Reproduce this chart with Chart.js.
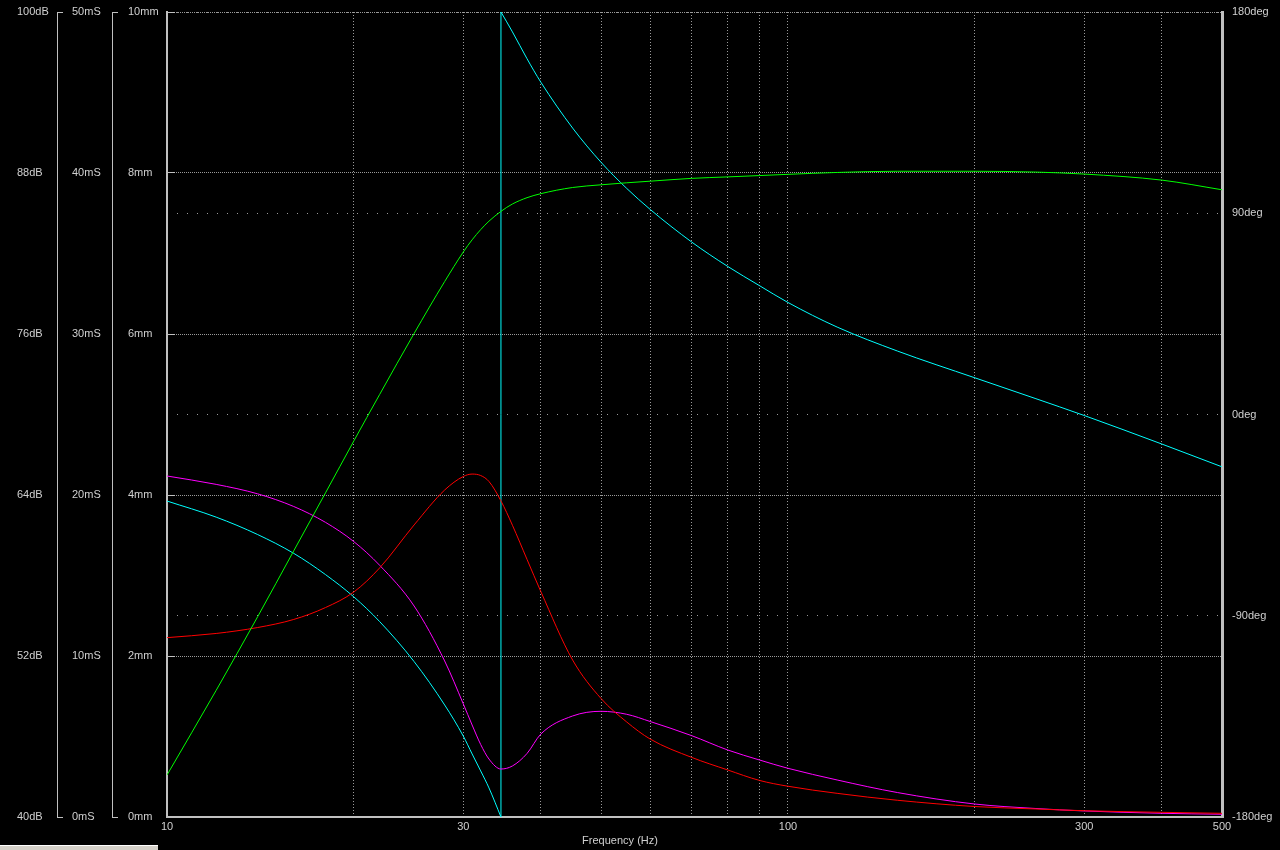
<!DOCTYPE html>
<html lang="en">
<head>
    <meta charset="UTF-8">
    <title>Box Response</title>
    <script src="https://cdn.jsdelivr.net/npm/chart.js"></script>
    <style>
        body {
            margin: 0;
            background-color: #000;
            overflow: hidden;
        }

        #wrap {
            position: relative;
            width: 1280px;
            height: 850px;
        }

        #statusbar {
            position: absolute;
            left: 0;
            top: 845px;
            width: 158px;
            height: 5px;
            background-color: #d4d0c8;
            border-top: 1px solid #ffffff;
        }
    </style>
</head>
<body>
    <div id="wrap">
        <canvas id="response" width="1280" height="850"></canvas>
        <div id="statusbar"></div>
    </div>

    <script>
        // Frequencies (Hz) used for SPL, group delay and excursion
        const freqs = [10, 12, 14, 16, 18, 20, 22, 25, 28, 30, 31, 32, 33, 34.5, 36, 38, 40, 45, 50, 55, 60, 70, 80, 90, 100, 120, 150, 200, 250, 300, 400, 500];

        // SPL (dB) - green
        const splDb = [43.13, 49.44, 54.94, 59.84, 64.16, 68.04, 71.49, 76.04, 79.91, 82.11, 83.02, 83.78, 84.41, 85.14, 85.69, 86.16, 86.46, 86.92, 87.12, 87.27, 87.39, 87.6, 87.71, 87.81, 87.9, 88.04, 88.13, 88.13, 88.07, 87.92, 87.47, 86.75];

        // Group delay (mS) - red
        const groupDelayMs = [11.14, 11.4, 11.77, 12.27, 13.01, 13.98, 15.47, 18.14, 20.31, 21.15, 21.3, 21.21, 20.84, 19.63, 18.12, 16.0, 14.0, 9.75, 7.36, 5.9, 4.84, 3.7, 2.92, 2.27, 1.91, 1.47, 1.04, 0.65, 0.5, 0.39, 0.29, 0.23];

        // Cone excursion (mm) - magenta
        const excursionMm = [4.236, 4.132, 4.014, 3.857, 3.66, 3.42, 3.127, 2.621, 1.938, 1.406, 1.143, 0.901, 0.72, 0.596, 0.634, 0.789, 1.031, 1.255, 1.313, 1.276, 1.186, 1.01, 0.832, 0.708, 0.605, 0.46, 0.304, 0.161, 0.106, 0.075, 0.046, 0.034];

        // Phase (deg) - cyan, wraps from -180 to +180
        const phaseLowFreqs = [10, 12, 14, 16, 18, 20, 22, 25, 28, 30, 31, 32, 33, 34.5];
        const phaseLowDeg = [-38.7, -45.9, -53.7, -62.1, -71.6, -81.6, -92.6, -110.5, -129.9, -143.8, -151.8, -159.4, -167.0, -180];
        const phaseHighFreqs = [34.5, 36, 38, 40, 45, 50, 55, 60, 70, 80, 90, 100, 120, 150, 200, 250, 300, 400, 500];
        const phaseHighDeg = [180, 171.1, 159.1, 148.6, 128.1, 112.8, 101.1, 91.7, 77.1, 66.2, 57.6, 50.1, 39.1, 28.4, 16.4, 7.2, -0.45, -13.2, -23.4];

        // Axis ticks
        const freqTicks = [10, 20, 30, 40, 50, 60, 70, 80, 90, 100, 200, 300, 400, 500];
        const freqLabels = [10, 30, 100, 300, 500];

        const pts = (xs, ys) => xs.map((x, i) => ({ x: x, y: ys[i] }));

        const labelColor = '#d0d0d0';
        const axisColor = '#c0c0c0';
        const gridColor = '#9a9a9a';
        const font = { family: 'Liberation Sans, Arial, sans-serif', size: 11 };

        const fixWidth = (w) => (scale) => { scale.width = w; };

        // tick stubs only at the ends of an axis
        const endStub = (ctx) => {
            const s = ctx.scale;
            return (ctx.tick && (ctx.tick.value === s.min || ctx.tick.value === s.max)) ? axisColor : 'transparent';
        };

        // Hidden axis used only to space out the left axes
        const gapAxis = (w, weight) => ({
            type: 'linear',
            position: 'left',
            weight: weight,
            ticks: { display: false },
            grid: { display: false },
            border: { display: false },
            afterFit: fixWidth(w),
        });

        const xTitle = {
            id: 'xTitle',
            afterDraw(chart) {
                const c = chart.ctx;
                c.save();
                c.font = '11px ' + font.family;
                c.fillStyle = labelColor;
                c.textAlign = 'center';
                c.textBaseline = 'middle';
                c.fillText('Frequency (Hz)', 620, 841);
                c.restore();
            }
        };

        const line = (data, color, axis, smooth) => ({
            data: data,
            yAxisID: axis,
            borderColor: color,
            borderWidth: 1,
            pointRadius: 0,
            fill: false,
            cubicInterpolationMode: smooth ? 'monotone' : 'default',
            tension: 0,
        });

        new Chart(document.getElementById('response'), {
            type: 'line',
            data: {
                datasets: [
                    line(pts(freqs, splDb), '#00ff00', 'db', true),
                    line(pts(freqs, groupDelayMs), '#ff0000', 'ms', true),
                    line(pts(freqs, excursionMm), '#ff00ff', 'mm', true),
                    line(pts(phaseLowFreqs, phaseLowDeg), '#00ffff', 'deg', true),
                    line([{ x: phaseLowFreqs[phaseLowFreqs.length - 1], y: phaseLowDeg[phaseLowDeg.length - 1] },
                          { x: phaseHighFreqs[0], y: phaseHighDeg[0] }], '#00ffff', 'deg', false),
                    line(pts(phaseHighFreqs, phaseHighDeg), '#00ffff', 'deg', true),
                ],
            },
            options: {
                responsive: false,
                animation: false,
                layout: { padding: { left: 17, top: 12, right: 0, bottom: 0 } },
                plugins: {
                    legend: { display: false },
                    tooltip: { enabled: false },
                },
                scales: {
                    x: {
                        type: 'logarithmic',
                        min: 10,
                        max: 500,
                        afterBuildTicks: (scale) => { scale.ticks = freqTicks.map(v => ({ value: v })); },
                        afterFit: (scale) => { scale.height = 33; },
                        ticks: {
                            autoSkip: false,
                            maxRotation: 0,
                            padding: 3,
                            color: labelColor,
                            font: font,
                            callback: (v) => freqLabels.includes(v) ? String(v) : '',
                        },
                        grid: {
                            color: (ctx) => (ctx.tick && (ctx.tick.value === 10 || ctx.tick.value === 500)) ? 'transparent' : gridColor,
                            drawTicks: false,
                        },
                        border: { color: axisColor, width: 2, dash: [1, 2] },
                    },
                    mm: {
                        type: 'linear',
                        position: 'left',
                        weight: 0,
                        min: 0,
                        max: 10,
                        afterFit: fixWidth(39),
                        ticks: { stepSize: 2, crossAlign: 'far', color: labelColor, font: font, callback: (v) => v + 'mm' },
                        grid: { color: gridColor, tickColor: axisColor, tickLength: -8 },
                        border: { color: axisColor, width: 2, dash: [1, 1] },
                    },
                    gap2: gapAxis(16, 1),
                    ms: {
                        type: 'linear',
                        position: 'left',
                        weight: 2,
                        min: 0,
                        max: 50,
                        afterFit: fixWidth(40),
                        ticks: { stepSize: 10, crossAlign: 'far', color: labelColor, font: font, callback: (v) => v + 'mS' },
                        grid: { drawOnChartArea: false, color: endStub, tickLength: -6 },
                        border: { color: axisColor, width: 1 },
                    },
                    gap1: gapAxis(15, 3),
                    db: {
                        type: 'linear',
                        position: 'left',
                        weight: 4,
                        min: 40,
                        max: 100,
                        afterFit: fixWidth(40),
                        ticks: { stepSize: 12, crossAlign: 'far', color: labelColor, font: font, callback: (v) => v + 'dB' },
                        grid: { drawOnChartArea: false, color: endStub, tickLength: -6 },
                        border: { color: axisColor, width: 1 },
                    },
                    deg: {
                        type: 'linear',
                        position: 'right',
                        min: -180,
                        max: 180,
                        afterFit: fixWidth(58),
                        ticks: { stepSize: 90, padding: 3, color: labelColor, font: font, callback: (v) => v + 'deg' },
                        grid: { color: gridColor, tickColor: 'transparent', tickLength: 7 },
                        border: { color: axisColor, width: 3, dash: [1, 9] },
                    },
                },
            },
            plugins: [xTitle],
        });
    </script>
</body>
</html>
